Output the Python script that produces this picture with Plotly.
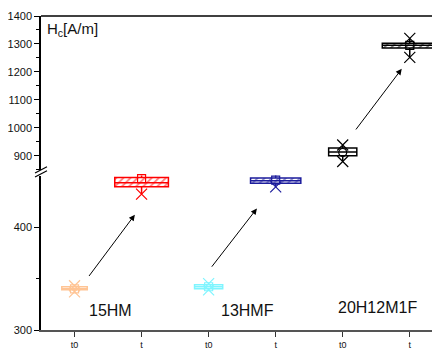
import plotly.graph_objects as go

# ---- data ----
categories = ["t0", "t", "t0", "t", "t0", "t"]
positions = [0, 1, 2, 3, 4, 5]
materials = ["15HM", "13HMF", "20H12M1F"]

q1 = [339, 439, 340, 442.5, 900, 1286]
median = [340, 443, 342, 445, 914, 1295]
q3 = [342, 448, 344, 447.5, 928, 1303]
mean = [340, 447, 342, 445.5, 912, 1295]
vmin = [337, 432, 339, 439, 880, 1252]
vmax = [343, 457, 345, 458, 939, 1320]

colors = ["#FFC494", "#FF0000", "#7FF5FF", "#1C1C9C", "#000000", "#000000"]
hatched = [False, True, False, True, False, True]
axis_of = ["y", "y", "y", "y", "y2", "y2"]
box_w = [0.38, 0.8, 0.42, 0.75, 0.42, 0.82]
mean_sym = ["square-open", "square-open", "square-open", "square-open", "circle-open", "square-open"]

# arrows: (tail x, tail y, head x, head y, axis)
arrows = [(0.2, 351, 0.9, 412, "y"), (2.03, 360, 2.72, 418, "y"), (4.18, 989, 4.88, 1211, "y2")]
label_pos = [(0.53, 319), (2.58, 319), (4.52, 322)]

FONT = "Arial, Liberation Sans, sans-serif"
fig = go.Figure()

for i in range(6):
    c = colors[i]
    if hatched[i]:
        fig.add_trace(go.Bar(
            x=[positions[i]], y=[q3[i] - q1[i]], base=[q1[i]], width=box_w[i],
            yaxis=axis_of[i], showlegend=False, hoverinfo="skip",
            marker=dict(color="white", line=dict(width=0),
                        pattern=dict(shape="/", fgcolor=c, bgcolor="white", size=5, solidity=0.35))))
    fig.add_trace(go.Box(
        x=[positions[i]], q1=[q1[i]], median=[median[i]], q3=[q3[i]],
        lowerfence=[vmin[i]], upperfence=[vmax[i]], width=box_w[i],
        yaxis=axis_of[i], showlegend=False, boxpoints=False, whiskerwidth=0,
        fillcolor="rgba(0,0,0,0)", line=dict(color=c, width=1.5)))
    fig.add_trace(go.Scatter(
        x=[positions[i], positions[i]], y=[vmin[i], vmax[i]], mode="markers",
        yaxis=axis_of[i], showlegend=False, cliponaxis=False,
        marker=dict(symbol="x-thin-open", size=11, color=c, line=dict(color=c, width=1.2))))
    fig.add_trace(go.Scatter(
        x=[positions[i]], y=[mean[i]], mode="markers",
        yaxis=axis_of[i], showlegend=False, cliponaxis=False,
        marker=dict(symbol=mean_sym[i], size=8, color=c, line=dict(color=c, width=1.2))))

annotations = []
for (x0, y0, x1, y1, ax) in arrows:
    annotations.append(dict(x=x1, y=y1, ax=x0, ay=y0, xref="x", yref=ax, axref="x", ayref=ax,
                            showarrow=True, arrowhead=2, arrowsize=1.2, arrowwidth=1, arrowcolor="black", text=""))
for (lx, ly), name in zip(label_pos, materials):
    annotations.append(dict(x=lx, y=ly, xref="x", yref="y", text=name, showarrow=False,
                            font=dict(size=16, color="#111", family=FONT)))
annotations.append(dict(x=4 / 407, y=1 - 14 / 314, xref="paper", yref="paper", xanchor="left", yanchor="middle",
                        text="H<sub>c</sub>[A/m]", showarrow=False, font=dict(size=15, color="#111", family=FONT)))

shapes = [
    dict(type="line", xref="paper", yref="paper", x0=0, x1=1, y0=1, y1=1, line=dict(color="black", width=1.5)),
    dict(type="line", xref="paper", yref="paper", x0=-6 / 407, x1=6 / 407, y0=0.487, y1=0.507, line=dict(color="black", width=1.2)),
    dict(type="line", xref="paper", yref="paper", x0=-6 / 407, x1=6 / 407, y0=0.500, y1=0.520, line=dict(color="black", width=1.2)),
]

fig.update_layout(
    width=440, height=349, margin=dict(l=33, r=0, t=8, b=27),
    plot_bgcolor="white", paper_bgcolor="white", barmode="overlay", boxmode="overlay",
    font=dict(family=FONT, color="#111", size=11),
    annotations=annotations, shapes=shapes,
    xaxis=dict(range=[-0.5, 5.57], tickvals=positions, ticktext=categories, showgrid=False, zeroline=False,
               showline=True, linecolor="#555", linewidth=2, ticks="outside", ticklen=5, tickcolor="#333",
               tickfont=dict(size=9), anchor="y", automargin=False),
    yaxis=dict(domain=[0, 0.492], range=[300, 450], tickvals=[300, 400], showgrid=False, zeroline=False,
               showline=True, linecolor="black", linewidth=1.5, ticks="outside", ticklen=5, tickcolor="black",
               minor=dict(tickvals=[350], ticks="outside", ticklen=3, tickcolor="black"), anchor="x",
               automargin=False),
    yaxis2=dict(domain=[0.51, 1], range=[850, 1400], dtick=100, showgrid=False, zeroline=False,
                showline=True, linecolor="black", linewidth=1.5, ticks="outside", ticklen=5, tickcolor="black",
                minor=dict(dtick=50, ticks="outside", ticklen=3, tickcolor="black"), anchor="x",
                automargin=False),
)

fig.write_html("out.html")
